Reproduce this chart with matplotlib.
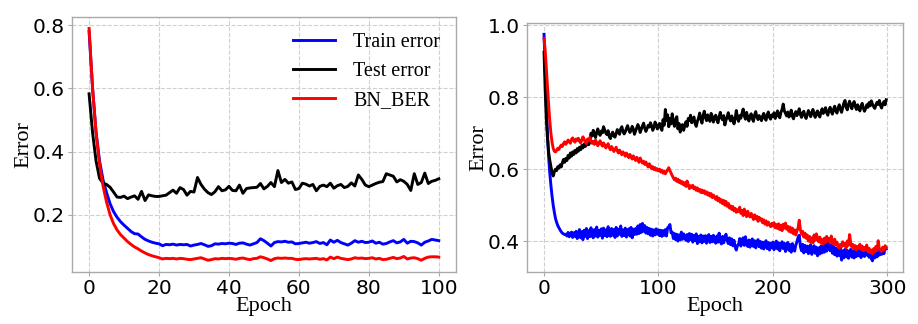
import numpy as np
import matplotlib
matplotlib.use("Agg")
import matplotlib.pyplot as plt

# left panel: 101 epochs
epochs_a = np.arange(101)

train_a = [
    0.78, 0.60, 0.46, 0.37, 0.31, 0.27, 0.235, 0.21, 0.192, 0.178,
    0.167, 0.157, 0.147, 0.140, 0.139, 0.130, 0.122, 0.117, 0.113, 0.110,
    0.108, 0.102, 0.106, 0.105, 0.107, 0.104, 0.106, 0.105, 0.106, 0.101,
    0.104, 0.106, 0.109, 0.105, 0.100, 0.102, 0.108, 0.107, 0.109, 0.108,
    0.110, 0.109, 0.106, 0.110, 0.111, 0.107, 0.104, 0.108, 0.112, 0.124,
    0.118, 0.110, 0.101, 0.112, 0.115, 0.114, 0.116, 0.113, 0.114, 0.108,
    0.109, 0.111, 0.113, 0.110, 0.112, 0.115, 0.109, 0.112, 0.105, 0.120,
    0.113, 0.119, 0.112, 0.108, 0.104, 0.110, 0.118, 0.113, 0.116, 0.112,
    0.113, 0.117, 0.110, 0.113, 0.107, 0.109, 0.114, 0.118, 0.111, 0.114,
    0.122, 0.110, 0.116, 0.115, 0.111, 0.104, 0.113, 0.117, 0.122, 0.120,
    0.118,
]

test_a = [
    0.583, 0.46, 0.37, 0.315, 0.300, 0.296, 0.287, 0.272, 0.256, 0.255,
    0.259, 0.251, 0.256, 0.260, 0.249, 0.274, 0.245, 0.263, 0.260, 0.258,
    0.258, 0.260, 0.262, 0.270, 0.278, 0.268, 0.286, 0.280, 0.262, 0.274,
    0.272, 0.318, 0.296, 0.281, 0.270, 0.264, 0.273, 0.289, 0.276, 0.279,
    0.290, 0.277, 0.276, 0.294, 0.268, 0.283, 0.285, 0.286, 0.287, 0.299,
    0.282, 0.290, 0.302, 0.289, 0.340, 0.302, 0.312, 0.300, 0.304, 0.280,
    0.283, 0.300, 0.297, 0.291, 0.296, 0.276, 0.290, 0.294, 0.289, 0.300,
    0.284, 0.292, 0.296, 0.286, 0.290, 0.301, 0.291, 0.326, 0.312, 0.294,
    0.289, 0.294, 0.299, 0.303, 0.305, 0.330, 0.326, 0.322, 0.304, 0.311,
    0.306, 0.296, 0.277, 0.330, 0.296, 0.302, 0.332, 0.299, 0.306, 0.309,
    0.314,
]

bnber_a = [
    0.79, 0.60, 0.46, 0.36, 0.29, 0.24, 0.20, 0.172, 0.152, 0.137,
    0.126, 0.115, 0.106, 0.098, 0.092, 0.085, 0.079, 0.074, 0.070, 0.067,
    0.064, 0.060, 0.062, 0.061, 0.062, 0.060, 0.062, 0.061, 0.059, 0.058,
    0.060, 0.062, 0.064, 0.060, 0.056, 0.058, 0.061, 0.060, 0.062, 0.061,
    0.062, 0.061, 0.059, 0.062, 0.063, 0.060, 0.058, 0.061, 0.062, 0.067,
    0.064, 0.060, 0.055, 0.061, 0.063, 0.062, 0.063, 0.062, 0.062, 0.059,
    0.058, 0.060, 0.061, 0.060, 0.061, 0.062, 0.059, 0.061, 0.057, 0.066,
    0.061, 0.066, 0.062, 0.060, 0.058, 0.060, 0.064, 0.062, 0.063, 0.061,
    0.062, 0.064, 0.060, 0.062, 0.058, 0.059, 0.062, 0.065, 0.061, 0.063,
    0.068, 0.060, 0.063, 0.064, 0.061, 0.056, 0.062, 0.066, 0.067, 0.067,
    0.066,
]

# right panel: 300 epochs
epochs_b = np.arange(300)

train_b = [
    0.975, 0.88, 0.78, 0.70, 0.635, 0.59, 0.555, 0.525, 0.50, 0.48,
    0.463, 0.452, 0.443, 0.437, 0.431, 0.426, 0.422, 0.420, 0.418, 0.419,
    0.414, 0.424, 0.412, 0.421, 0.425, 0.410, 0.423, 0.413, 0.427, 0.407,
    0.424, 0.432, 0.409, 0.426, 0.404, 0.430, 0.413, 0.435, 0.407, 0.429,
    0.412, 0.437, 0.415, 0.409, 0.432, 0.414, 0.439, 0.411, 0.430, 0.416,
    0.434, 0.408, 0.436, 0.415, 0.431, 0.412, 0.440, 0.417, 0.413, 0.435,
    0.416, 0.432, 0.410, 0.438, 0.414, 0.433, 0.419, 0.442, 0.413, 0.431,
    0.415, 0.436, 0.411, 0.430, 0.434, 0.414, 0.438, 0.409, 0.433, 0.418,
    0.435, 0.419, 0.442, 0.421, 0.446, 0.424, 0.449, 0.427, 0.443, 0.422,
    0.438, 0.420, 0.435, 0.416, 0.433, 0.414, 0.431, 0.417, 0.434, 0.419,
    0.431, 0.415, 0.430, 0.413, 0.429, 0.416, 0.432, 0.414, 0.437, 0.440,
    0.446, 0.423, 0.425, 0.407, 0.421, 0.404, 0.419, 0.400, 0.417, 0.403,
    0.425, 0.405, 0.420, 0.413, 0.402, 0.418, 0.399, 0.421, 0.404, 0.419,
    0.397, 0.416, 0.401, 0.420, 0.393, 0.413, 0.398, 0.417, 0.395, 0.414,
    0.399, 0.415, 0.394, 0.412, 0.418, 0.396, 0.413, 0.398, 0.416, 0.400,
    0.394, 0.414, 0.397, 0.422, 0.399, 0.392, 0.413, 0.395, 0.411, 0.419,
    0.402, 0.393, 0.409, 0.390, 0.406, 0.387, 0.402, 0.383, 0.375, 0.388,
    0.390, 0.407, 0.386, 0.404, 0.409, 0.388, 0.412, 0.391, 0.385, 0.403,
    0.383, 0.400, 0.406, 0.385, 0.401, 0.381, 0.398, 0.404, 0.384, 0.399,
    0.380, 0.397, 0.378, 0.395, 0.401, 0.379, 0.396, 0.375, 0.394, 0.381,
    0.397, 0.376, 0.393, 0.400, 0.378, 0.395, 0.373, 0.392, 0.398, 0.379,
    0.394, 0.371, 0.391, 0.396, 0.374, 0.390, 0.369, 0.393, 0.376, 0.372,
    0.389, 0.398, 0.410, 0.416, 0.385, 0.373, 0.391, 0.367, 0.388, 0.371,
    0.386, 0.365, 0.384, 0.390, 0.363, 0.380, 0.387, 0.366, 0.383, 0.359,
    0.381, 0.364, 0.386, 0.367, 0.391, 0.369, 0.394, 0.372, 0.388, 0.397,
    0.373, 0.390, 0.366, 0.385, 0.362, 0.381, 0.358, 0.377, 0.360, 0.379,
    0.347, 0.373, 0.353, 0.377, 0.356, 0.374, 0.352, 0.371, 0.377, 0.355,
    0.373, 0.353, 0.376, 0.357, 0.380, 0.359, 0.375, 0.354, 0.372, 0.378,
    0.357, 0.383, 0.361, 0.376, 0.355, 0.374, 0.351, 0.345, 0.368, 0.353,
    0.375, 0.356, 0.379, 0.361, 0.376, 0.363, 0.381, 0.365, 0.384, 0.378,
]

test_b = [
    0.925, 0.82, 0.74, 0.685, 0.648, 0.625, 0.608, 0.59, 0.581, 0.592,
    0.600, 0.596, 0.607, 0.603, 0.612, 0.606, 0.618, 0.627, 0.619, 0.630,
    0.624, 0.638, 0.631, 0.645, 0.636, 0.648, 0.641, 0.652, 0.645, 0.657,
    0.650, 0.661, 0.654, 0.666, 0.659, 0.670, 0.663, 0.667, 0.672, 0.668,
    0.674, 0.700, 0.692, 0.708, 0.697, 0.688, 0.703, 0.712, 0.699, 0.694,
    0.706, 0.701, 0.718, 0.709, 0.700, 0.696, 0.707, 0.690, 0.685, 0.697,
    0.703, 0.692, 0.689, 0.699, 0.710, 0.703, 0.697, 0.712, 0.718, 0.705,
    0.698, 0.704, 0.713, 0.721, 0.710, 0.702, 0.707, 0.719, 0.712, 0.697,
    0.706, 0.715, 0.724, 0.716, 0.702, 0.711, 0.720, 0.728, 0.714, 0.705,
    0.713, 0.722, 0.717, 0.729, 0.721, 0.708, 0.716, 0.731, 0.724, 0.712,
    0.719, 0.727, 0.715, 0.708, 0.738, 0.722, 0.766, 0.735, 0.751, 0.718,
    0.741, 0.726, 0.754, 0.731, 0.719, 0.738, 0.746, 0.712, 0.727, 0.703,
    0.716, 0.724, 0.708, 0.721, 0.732, 0.719, 0.741, 0.735, 0.750, 0.729,
    0.738, 0.745, 0.727, 0.719, 0.733, 0.742, 0.756, 0.739, 0.728, 0.749,
    0.761, 0.744, 0.735, 0.751, 0.740, 0.733, 0.755, 0.747, 0.731, 0.742,
    0.750, 0.738, 0.729, 0.746, 0.758, 0.743, 0.737, 0.749, 0.723, 0.736,
    0.745, 0.757, 0.741, 0.734, 0.748, 0.739, 0.726, 0.740, 0.763, 0.744,
    0.733, 0.749, 0.742, 0.756, 0.767, 0.748, 0.739, 0.758, 0.745, 0.734,
    0.747, 0.754, 0.740, 0.733, 0.751, 0.760, 0.745, 0.738, 0.749, 0.742,
    0.735, 0.748, 0.755, 0.741, 0.736, 0.752, 0.759, 0.744, 0.739, 0.751,
    0.746, 0.757, 0.741, 0.750, 0.762, 0.749, 0.743, 0.758, 0.766, 0.781,
    0.762, 0.755, 0.748, 0.759, 0.745, 0.752, 0.764, 0.747, 0.740, 0.753,
    0.760, 0.749, 0.757, 0.768, 0.752, 0.744, 0.756, 0.761, 0.748, 0.741,
    0.752, 0.763, 0.755, 0.746, 0.758, 0.766, 0.751, 0.744, 0.757, 0.762,
    0.750, 0.745, 0.759, 0.768, 0.755, 0.761, 0.771, 0.757, 0.750, 0.764,
    0.772, 0.760, 0.753, 0.767, 0.775, 0.762, 0.756, 0.770, 0.779, 0.766,
    0.758, 0.771, 0.784, 0.791, 0.772, 0.765, 0.780, 0.789, 0.776, 0.768,
    0.782, 0.788, 0.774, 0.766, 0.779, 0.771, 0.762, 0.775, 0.783, 0.770,
    0.761, 0.768, 0.779, 0.772, 0.785, 0.776, 0.790, 0.781, 0.774, 0.769,
    0.778, 0.786, 0.780, 0.791, 0.777, 0.770, 0.782, 0.788, 0.779, 0.793,
]

bnber_b = [
    0.963, 0.93, 0.88, 0.83, 0.78, 0.735, 0.70, 0.675, 0.658, 0.650,
    0.648, 0.652, 0.658, 0.655, 0.662, 0.667, 0.663, 0.671, 0.676, 0.669,
    0.674, 0.681, 0.677, 0.672, 0.683, 0.687, 0.679, 0.675, 0.684, 0.680,
    0.686, 0.678, 0.673, 0.681, 0.690, 0.683, 0.676, 0.671, 0.684, 0.679,
    0.688, 0.680, 0.672, 0.677, 0.669, 0.681, 0.674, 0.665, 0.672, 0.679,
    0.670, 0.664, 0.673, 0.667, 0.659, 0.665, 0.671, 0.660, 0.654, 0.663,
    0.657, 0.649, 0.655, 0.661, 0.651, 0.645, 0.653, 0.647, 0.640, 0.648,
    0.643, 0.636, 0.645, 0.639, 0.632, 0.641, 0.635, 0.628, 0.637, 0.630,
    0.624, 0.633, 0.627, 0.619, 0.631, 0.624, 0.617, 0.622, 0.613, 0.620,
    0.612, 0.606, 0.615, 0.609, 0.601, 0.607, 0.599, 0.604, 0.597, 0.601,
    0.595, 0.600, 0.592, 0.597, 0.589, 0.594, 0.587, 0.593, 0.598, 0.604,
    0.596, 0.589, 0.582, 0.576, 0.570, 0.575, 0.566, 0.572, 0.563, 0.568,
    0.560, 0.565, 0.556, 0.562, 0.552, 0.567, 0.557, 0.546, 0.554, 0.549,
    0.555, 0.545, 0.550, 0.541, 0.548, 0.539, 0.544, 0.535, 0.542, 0.534,
    0.540, 0.531, 0.537, 0.528, 0.534, 0.525, 0.532, 0.521, 0.528, 0.522,
    0.516, 0.524, 0.512, 0.519, 0.508, 0.515, 0.504, 0.513, 0.500, 0.510,
    0.497, 0.505, 0.492, 0.498, 0.488, 0.496, 0.484, 0.491, 0.480, 0.487,
    0.482, 0.494, 0.477, 0.485, 0.471, 0.489, 0.478, 0.468, 0.483, 0.473,
    0.467, 0.477, 0.469, 0.460, 0.473, 0.462, 0.469, 0.455, 0.466, 0.458,
    0.462, 0.451, 0.459, 0.447, 0.456, 0.444, 0.453, 0.446, 0.440, 0.449,
    0.442, 0.451, 0.437, 0.446, 0.435, 0.448, 0.432, 0.444, 0.429, 0.447,
    0.436, 0.450, 0.433, 0.441, 0.427, 0.439, 0.424, 0.436, 0.420, 0.431,
    0.417, 0.428, 0.437, 0.458, 0.432, 0.419, 0.427, 0.411, 0.422, 0.408,
    0.417, 0.400, 0.413, 0.397, 0.409, 0.395, 0.417, 0.402, 0.420, 0.406,
    0.398, 0.411, 0.394, 0.404, 0.391, 0.408, 0.396, 0.413, 0.401, 0.407,
    0.395, 0.414, 0.400, 0.392, 0.405, 0.389, 0.397, 0.385, 0.380, 0.391,
    0.384, 0.398, 0.387, 0.394, 0.381, 0.400, 0.388, 0.418, 0.395, 0.383,
    0.390, 0.378, 0.387, 0.375, 0.385, 0.380, 0.391, 0.377, 0.386, 0.373,
    0.382, 0.376, 0.389, 0.371, 0.380, 0.368, 0.375, 0.364, 0.379, 0.370,
    0.385, 0.374, 0.401, 0.379, 0.376, 0.371, 0.383, 0.375, 0.387, 0.383,
]

label_font = {"family": "Liberation Serif", "size": 16}
spine_color = "#aaaaaa"


def style_axes(ax):
    ax.grid(True, linestyle="--", color="#d0d0d0", linewidth=0.8)
    ax.set_axisbelow(True)
    for sp in ax.spines.values():
        sp.set_color(spine_color)
        sp.set_linewidth(1.0)
    ax.tick_params(labelsize=14.5, color=spine_color, length=3, pad=2)
    ax.set_xlabel("Epoch", fontdict=label_font, labelpad=-1)
    ax.set_ylabel("Error", fontdict=label_font)


fig = plt.figure(figsize=(9.18, 3.24), dpi=100)
ax1 = fig.add_axes([0.078, 0.160, 0.419, 0.788])
ax2 = fig.add_axes([0.574, 0.160, 0.410, 0.769])

lw = 2.1
ax1.plot(epochs_a, train_a, color="blue", lw=lw, label="Train error")
ax1.plot(epochs_a, test_a, color="black", lw=lw, label="Test error")
ax1.plot(epochs_a, bnber_a, color="red", lw=lw, label="BN_BER")
ax1.set_xticks([0, 20, 40, 60, 80, 100])
ax1.set_yticks([0.2, 0.4, 0.6, 0.8])
style_axes(ax1)
ax1.yaxis.set_label_coords(-0.1, 0.5)
ax1.legend(loc="upper right", frameon=False,
           prop={"family": "Liberation Serif", "size": 14.5},
           handlelength=2.1, handletextpad=0.9, labelspacing=0.5,
           borderaxespad=0.4)

ax2.plot(epochs_b, train_b, color="blue", lw=lw)
ax2.plot(epochs_b, test_b, color="black", lw=lw)
ax2.plot(epochs_b, bnber_b, color="red", lw=lw)
ax2.set_xticks([0, 100, 200, 300])
ax2.set_yticks([0.4, 0.6, 0.8, 1.0])
style_axes(ax2)
ax2.yaxis.set_label_coords(-0.102, 0.5)

fig.savefig("out.png", dpi=100)
